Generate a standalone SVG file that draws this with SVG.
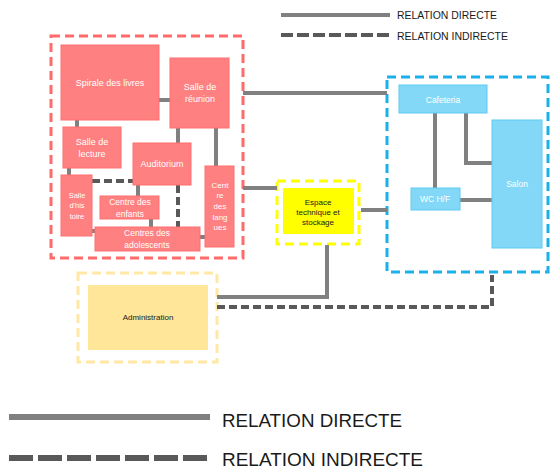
<svg xmlns="http://www.w3.org/2000/svg" width="550" height="470" viewBox="0 0 550 470">
  <style>
    text { font-family: "Liberation Sans", Arial, sans-serif; text-anchor: middle; }
    .red { fill: #FF8080; stroke: #FF6E6E; stroke-width: 1; }
    .blue { fill: #84D8F7; stroke: #5CCBF2; stroke-width: 1; }
    .wt { fill: #FFFFFF; }
    .bk { fill: #1A1A1A; }
    .direct { fill: none; stroke: #808080; stroke-width: 4; }
    .indirect { fill: none; stroke: #595959; stroke-width: 4; stroke-dasharray: 8 4; }
    .zone { fill: none; stroke-width: 3; stroke-dasharray: 9 5; }
    .legend { text-anchor: start; fill: #1A1A1A; }
  </style>

  <!-- legend, top -->
  <g id="legend-top">
    <line x1="281" y1="15" x2="390" y2="15" stroke="#808080" stroke-width="4"/>
    <line x1="281" y1="35" x2="390" y2="35" stroke="#595959" stroke-width="4" stroke-dasharray="12 4"/>
    <text class="legend" x="397" y="19" font-size="10.5" textLength="100" lengthAdjust="spacingAndGlyphs">RELATION DIRECTE</text>
    <text class="legend" x="397" y="40" font-size="10.5" textLength="111" lengthAdjust="spacingAndGlyphs">RELATION INDIRECTE</text>
  </g>

  <!-- zone outlines -->
  <g id="zones">
    <rect x="51" y="36" width="192" height="222" class="zone" stroke="#FF6B6B"/>
    <rect x="387" y="77" width="161" height="195" class="zone" stroke="#1AB0EA"/>
    <rect x="277" y="181" width="82" height="63" class="zone" stroke="#FFFF00"/>
    <rect x="78" y="273" width="139" height="89" class="zone" stroke="#FFE8A6"/>
  </g>

  <!-- connectors -->
  <g id="connectors">
    <line x1="159" y1="100" x2="170" y2="100" class="direct"/>
    <line x1="77" y1="120" x2="77" y2="127" class="direct"/>
    <line x1="178" y1="128" x2="178" y2="143" class="direct"/>
    <line x1="216" y1="128" x2="216" y2="166" class="direct"/>
    <line x1="69" y1="168" x2="69" y2="175" class="direct"/>
    <line x1="92" y1="181" x2="133" y2="181" class="indirect"/>
    <line x1="138" y1="185" x2="138" y2="196" class="direct"/>
    <line x1="178" y1="185" x2="178" y2="227" class="indirect"/>
    <line x1="151" y1="219" x2="151" y2="227" class="direct"/>
    <line x1="92" y1="231" x2="95" y2="231" class="direct"/>
    <line x1="200" y1="237" x2="205" y2="237" class="direct"/>
    <line x1="243" y1="93" x2="387" y2="93" class="direct"/>
    <line x1="243" y1="188" x2="277" y2="188" class="direct"/>
    <line x1="361" y1="210" x2="387" y2="210" class="direct"/>
    <line x1="435" y1="113" x2="435" y2="188" class="direct"/>
    <polyline points="466,113 466,163 492,163" class="direct"/>
    <line x1="460" y1="200" x2="492" y2="200" class="direct"/>
    <polyline points="327,245 327,297 217,297" class="direct"/>
    <polyline points="217,307 492,307 492,275" class="indirect"/>
  </g>

  <!-- library rooms -->
  <g id="spirale">
    <rect x="61" y="45" width="98" height="75" class="red"/>
    <text x="110" y="86" font-size="9" class="wt">Spirale des livres</text>
  </g>
  <g id="reunion">
    <rect x="170" y="58" width="59" height="70" class="red"/>
    <text x="200" y="90" font-size="9" class="wt">Salle de</text>
    <text x="200" y="102" font-size="9" class="wt">réunion</text>
  </g>
  <g id="lecture">
    <rect x="63" y="127" width="58" height="41" class="red"/>
    <text x="92" y="145" font-size="9" class="wt">Salle de</text>
    <text x="92" y="157" font-size="9" class="wt">lecture</text>
  </g>
  <g id="auditorium">
    <rect x="133" y="143" width="58" height="42" class="red"/>
    <text x="162" y="167" font-size="9" class="wt">Auditorium</text>
  </g>
  <g id="langues">
    <rect x="205" y="166" width="29" height="81" class="red"/>
    <text x="220" y="188" font-size="8" class="wt">Cent</text>
    <text x="220" y="198" font-size="8" class="wt">re</text>
    <text x="220" y="209" font-size="8" class="wt">des</text>
    <text x="220" y="220" font-size="8" class="wt">lang</text>
    <text x="220" y="230" font-size="8" class="wt">ues</text>
  </g>
  <g id="histoire">
    <rect x="61" y="175" width="31" height="61" class="red"/>
    <text x="77" y="198" font-size="7.5" class="wt">Salle</text>
    <text x="77" y="208" font-size="7.5" class="wt">d'his</text>
    <text x="77" y="219" font-size="7.5" class="wt">toire</text>
  </g>
  <g id="enfants">
    <rect x="100" y="196" width="59" height="23" class="red"/>
    <text x="130" y="205" font-size="8.5" class="wt">Centre des</text>
    <text x="130" y="217" font-size="8.5" class="wt">enfants</text>
  </g>
  <g id="adolescents">
    <rect x="95" y="227" width="105" height="24" class="red"/>
    <text x="147" y="236" font-size="8.5" class="wt">Centres des</text>
    <text x="147" y="248" font-size="8.5" class="wt">adolescents</text>
  </g>

  <!-- cafeteria zone -->
  <g id="cafeteria">
    <rect x="399" y="85" width="88" height="28" class="blue"/>
    <text x="443" y="103" font-size="8.5" class="wt">Cafeteria</text>
  </g>
  <g id="salon">
    <rect x="492" y="120" width="50" height="128" class="blue"/>
    <text x="517" y="187" font-size="8.5" class="wt">Salon</text>
  </g>
  <g id="wc">
    <rect x="411" y="188" width="49" height="22" class="blue"/>
    <text x="435" y="202" font-size="8.5" class="wt">WC H/F</text>
  </g>

  <!-- technical space -->
  <g id="technique">
    <rect x="283" y="188" width="71" height="46" fill="#FFFF00"/>
    <text x="318" y="205" font-size="8" class="bk">Espace</text>
    <text x="318" y="215" font-size="8" class="bk">technique et</text>
    <text x="318" y="225" font-size="8" class="bk">stockage</text>
  </g>

  <!-- administration -->
  <g id="administration">
    <rect x="88" y="285" width="120" height="65" fill="#FFE699"/>
    <text x="148" y="320" font-size="8" class="bk">Administration</text>
  </g>

  <!-- legend, bottom -->
  <g id="legend-bottom">
    <line x1="9" y1="417" x2="210" y2="417" stroke="#808080" stroke-width="6"/>
    <line x1="9" y1="458" x2="210" y2="458" stroke="#595959" stroke-width="6" stroke-dasharray="24 5"/>
    <text class="legend" x="222" y="427" font-size="19" textLength="180" lengthAdjust="spacingAndGlyphs">RELATION DIRECTE</text>
    <text class="legend" x="222" y="466" font-size="19" textLength="201" lengthAdjust="spacingAndGlyphs">RELATION INDIRECTE</text>
  </g>
</svg>
